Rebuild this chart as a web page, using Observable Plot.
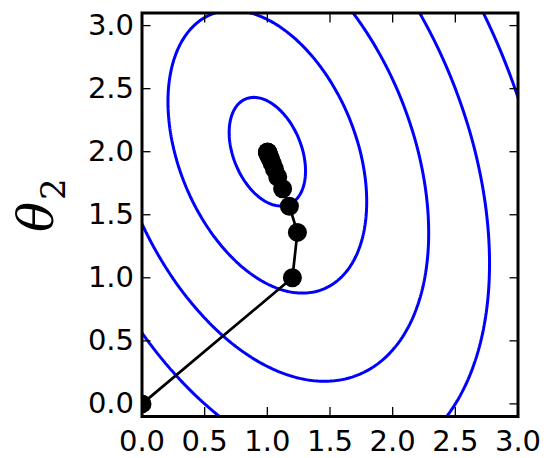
<!DOCTYPE html>
<html><head><meta charset="utf-8">
<script src="https://cdn.jsdelivr.net/npm/d3@7"></script>
<script src="https://cdn.jsdelivr.net/npm/@observablehq/plot@0.6"></script>
<style>body{margin:0;background:#fff} svg{display:block}</style>
</head><body><div id="chart"></div>
<script>
// gradient-descent path
const theta1 = [0, 1.2, 1.24, 1.176, 1.122, 1.083, 1.057, 1.039, 1.027, 1.018, 1.012, 1.008, 1.006, 1.004, 1.003, 1.002, 1.001];
const theta2 = [0, 1.0, 1.36, 1.568, 1.706, 1.799, 1.863, 1.906, 1.936, 1.956, 1.970, 1.980, 1.986, 1.990, 1.994, 1.996, 1.997];
// quadratic bowl: minimum, curvature matrix and contour levels read from the ellipses
const minimum = [1, 2];
const curvature = [[0.8, 0.2], [0.2, 0.4]];
const levels = [0.065, 0.44, 1.16, 2.2, 3.62];
const xTicks = [0, 0.5, 1.0, 1.5, 2.0, 2.5, 3.0];
const yTicks = [0, 0.5, 1.0, 1.5, 2.0, 2.5, 3.0];
const xDomain = [0, 3];
const yDomain = [-0.1, 3.1];

const path = theta1.map((t, i) => ({t1: t, t2: theta2[i]}));
const bowl = (x, y) => {
  const dx = x - minimum[0], dy = y - minimum[1];
  return curvature[0][0]*dx*dx + 2*curvature[0][1]*dx*dy + curvature[1][1]*dy*dy;
};
const fmt = d3.format(".1f");
const tickFont = {fontSize: 29, fontFamily: "DejaVu Sans"};

const chart = Plot.plot({
  width: 547, height: 458,
  marginLeft: 141.5, marginRight: 29.5, marginTop: 12.5, marginBottom: 42,
  style: {background: "#fff", color: "#000", fontFamily: "DejaVu Sans", fontSize: "29px"},
  x: {domain: xDomain},
  y: {domain: yDomain},
  marks: [
    Plot.contour({value: bowl, x1: -1, x2: 4, y1: -1, y2: 4, thresholds: levels,
      stroke: "#0000ff", fill: "none", strokeWidth: 3, clip: true}),
    Plot.line(path, {x: "t1", y: "t2", stroke: "#000", strokeWidth: 2.7, clip: true}),
    Plot.dot(path, {x: "t1", y: "t2", r: 9.5, fill: "#000", stroke: "none", clip: true}),
    Plot.axisX({anchor: "bottom", ticks: xTicks, tickFormat: fmt, tickSize: -9, tickPadding: 23, label: null, strokeWidth: 1.3, ...tickFont}),
    Plot.axisX({anchor: "top", ticks: xTicks, tickFormat: () => "", tickSize: -9, label: null, strokeWidth: 1.3}),
    Plot.axisY({anchor: "left", ticks: yTicks, tickFormat: fmt, tickSize: -9, tickPadding: 17, label: null, strokeWidth: 1.3, ...tickFont}),
    Plot.axisY({anchor: "right", ticks: yTicks, tickFormat: () => "", tickSize: -9, label: null, strokeWidth: 1.3}),
    Plot.frame({stroke: "#000", strokeWidth: 3})
  ]
});
document.getElementById("chart").append(chart);

// y-axis title θ₂
const svg = d3.select(chart);
const lab = svg.append("text")
  .attr("transform", "translate(53,232) rotate(-90)")
  .attr("text-anchor", "start")
  .attr("font-family", "DejaVu Serif")
  .attr("font-size", 50)
  .attr("fill", "#000");
lab.append("tspan").attr("font-style", "italic").text("θ");
lab.append("tspan").attr("font-size", 34).attr("dy", 12).attr("dx", 2).text("2");
</script>
</body></html>
